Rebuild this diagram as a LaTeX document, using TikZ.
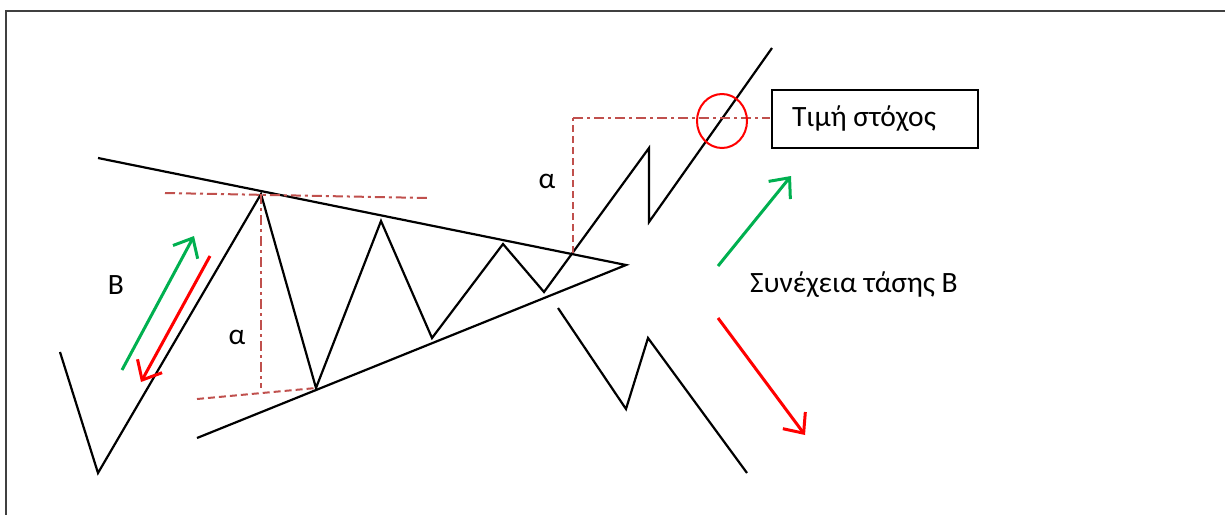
\documentclass[tikz,border=0pt]{standalone}
\usepackage{fontspec}
\setmainfont{Carlito}
\usetikzlibrary{arrows.meta}
\definecolor{guide}{HTML}{C0504D}
\definecolor{upgreen}{HTML}{00B050}
\definecolor{downred}{HTML}{FF0000}
\tikzset{
  price/.style={line width=2.2pt, black, line join=miter},
  trend/.style={line width=2.2pt, black},
  dashdotline/.style={line width=2pt, guide, dash pattern=on 10pt off 4pt on 3pt off 4pt},
  dashline/.style={line width=2pt, guide, dash pattern=on 7pt off 4pt},
  arrowup/.style={line width=3pt, upgreen, -{Straight Barb[length=16pt,width=28pt,line width=3pt]}},
  arrowdown/.style={line width=3pt, downred, -{Straight Barb[length=16pt,width=28pt,line width=3pt]}},
  lbl/.style={font=\fontsize{29.5}{34}\selectfont, inner sep=0pt},
  framebox/.style={line width=2pt, black, font=\fontsize{29.5}{34}\selectfont, minimum width=206pt, minimum height=58pt, inner sep=0pt}
}
\begin{document}
\begin{tikzpicture}[x=1pt,y=-1pt]
\useasboundingbox (0,0) rectangle (1225,515);
% frame
\draw[line width=2.5pt, black!75] (1225,11) -- (6,11) -- (6,515);

% trend lines
\coordinate (t1) at (98,158);
\coordinate (apex) at (626,265);
\coordinate (b1) at (197,438);
\draw[trend] (t1) -- (apex) -- (b1);

% main price path
\coordinate (p0) at (60,352);
\coordinate (p1) at (98,473);
\coordinate (p2) at (261,194);
\coordinate (p3) at (316,388);
\coordinate (p4) at (381,221);
\coordinate (p5) at (432,338);
\coordinate (p6) at (503,244);
\coordinate (p7) at (544,292);
\coordinate (p8) at (649,148);
\coordinate (p9) at (649,222);
\coordinate (p10) at (772,48);
\draw[price] (p0) -- (p1) -- (p2) -- (p3) -- (p4) -- (p5) -- (p6) -- (p7) -- (p8) -- (p9) -- (p10);

% alternative downward path
\coordinate (q0) at (558,308);
\coordinate (q1) at (626,409);
\coordinate (q2) at (648,338);
\coordinate (q3) at (747,473);
\draw[price] (q0) -- (q1) -- (q2) -- (q3);

% guide lines
\coordinate (g1) at (165,193);
\coordinate (g2) at (428,198);
\draw[dashdotline] (g1) -- (g2);
\draw[dashdotline] (p2) -- (261,388);
\coordinate (g3) at (197,399);
\draw[dashline] (g3) -- (p3);
\coordinate (br) at (573,253);
\coordinate (bt) at (573,118);
\coordinate (bend) at (770,118);
\draw[dashline] (br) -- (bt);
\draw[dashdotline] (bt) -- (bend);

% target circle
\draw[line width=2pt, downred] (722,121) circle[x radius=25pt, y radius=27pt];

% target box
\node[framebox, draw] (target) at (875,119) {\hspace*{-22pt}Τιμή στόχος};

% arrows
\coordinate (la0) at (122,370);
\coordinate (la1) at (194,236);
\draw[arrowup] (la0) -- (la1);
\coordinate (lb0) at (210,256);
\coordinate (lb1) at (141,382);
\draw[arrowdown] (lb0) -- (lb1);
\coordinate (ra0) at (718,266);
\coordinate (ra1) at (791,176);
\draw[arrowup] (ra0) -- (ra1);
\coordinate (rb0) at (718,318);
\coordinate (rb1) at (805,435);
\draw[arrowdown] (rb0) -- (rb1);

% labels
\node[lbl] (lB) at (116,285) {B};
\node[lbl] (la) at (237,337) {α};
\node[lbl] (ra) at (547,181) {α};
\node[lbl, anchor=west] (cont) at (750,285) {Συνέχεια τάσης Β};
\end{tikzpicture}
\end{document}
